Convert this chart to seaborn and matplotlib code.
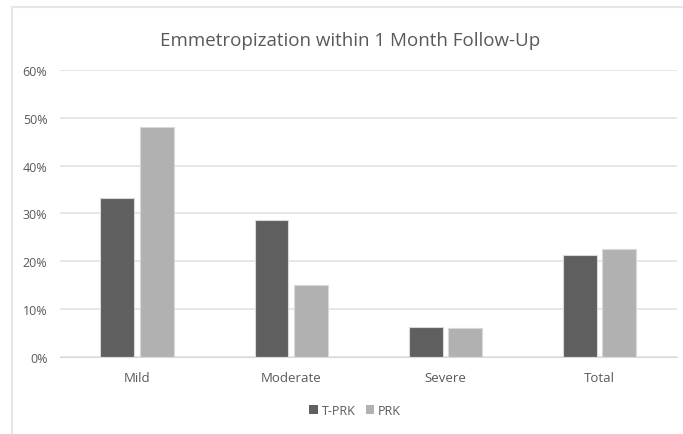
import numpy as np
import pandas as pd
import seaborn as sns
from matplotlib import pyplot as plt
from matplotlib.patches import Patch
from matplotlib.ticker import PercentFormatter

# values (fractions)
categories = ['Mild', 'Moderate', 'Severe', 'Total']
tprk = [0.333, 0.286, 0.063, 0.214]
prk = [0.481, 0.150, 0.061, 0.226]
groups = ['T-PRK', 'PRK']
colors = ['#5f5f5f', '#b1b1b1']

df = pd.DataFrame({
    'Severity': categories * 2,
    'Group': [groups[0]] * 4 + [groups[1]] * 4,
    'Value': tprk + prk,
})

sns.set_style('white')
plt.rcParams['font.family'] = ['Open Sans', 'DejaVu Sans']
txt = '#595959'

fig = plt.figure(figsize=(6.83, 4.35), dpi=100)
ax = fig.add_axes([0.0878, 0.177, 0.903, 0.66])

sns.barplot(data=df, x='Severity', y='Value', hue='Group', order=categories,
            hue_order=groups, palette=colors, width=0.51, gap=0.14,
            edgecolor='#d9d9d9', linewidth=0.8, legend=False, ax=ax)

ax.set_ylim(0, 0.6)
ax.set_xlim(-0.5, 3.5)
ax.set_yticks(np.arange(0, 0.61, 0.1))
ax.yaxis.set_major_formatter(PercentFormatter(1.0, decimals=0))
ax.grid(axis='y', color='#e3e3e3', linewidth=1.2)
ax.set_axisbelow(True)
for s in ax.spines.values():
    s.set_visible(False)
ax.spines['bottom'].set_visible(True)
ax.spines['bottom'].set_color('#d9d9d9')
ax.tick_params(axis='y', length=0, pad=9, labelsize=9, labelcolor=txt)
ax.tick_params(axis='x', length=0, pad=10, labelsize=9.5, labelcolor=txt)
ax.set_xlabel('')
ax.set_ylabel('')

fig.text(0.513, 0.905, 'Emmetropization within 1 Month Follow-Up',
         ha='center', va='center', fontsize=13.5, color=txt)

handles = [Patch(facecolor=c, edgecolor='none') for c in colors]
fig.legend(handles, groups, loc='center', bbox_to_anchor=(0.52, 0.055), ncol=2,
           frameon=False, fontsize=9, labelcolor=txt, handlelength=0.7,
           handleheight=0.7, handletextpad=0.3, columnspacing=0.8)

# light chart-area frame (left and top edges visible in the reference)
fig.add_artist(plt.Line2D([0.0176, 0.0176], [0, 0.982], color='#e6e6e6', linewidth=1.5))
fig.add_artist(plt.Line2D([0.0176, 1.0], [0.982, 0.982], color='#e6e6e6', linewidth=1.5))

fig.savefig('out.png', dpi=100)
